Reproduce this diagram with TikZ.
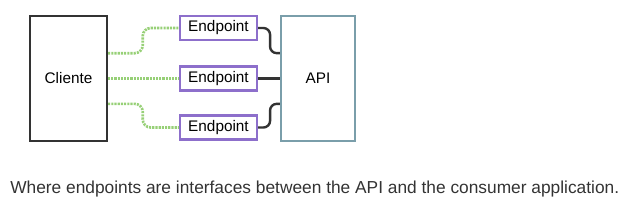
\documentclass[tikz,border=0pt]{standalone}
\usepackage{fontspec}
\setmainfont{Liberation Sans}
\usepackage{tikz}
\usetikzlibrary{calc}
\definecolor{ink}{HTML}{333333}
\definecolor{epline}{HTML}{8D6FCB}
\definecolor{apiline}{HTML}{7A9EAA}
\definecolor{dots}{HTML}{97D077}

\begin{document}
\begin{tikzpicture}[
    x=0.75pt, y=-0.75pt,
    font=\fontsize{11.5}{13}\selectfont,
    client/.style={
        draw=ink, line width=1.6pt, fill=white,
        minimum width=57.75pt, minimum height=93.75pt, inner sep=0pt
    },
    endpoint/.style={
        draw=epline, line width=1.6pt, fill=white,
        minimum width=57.75pt, minimum height=18pt, inner sep=0pt
    },
    server/.style={
        draw=apiline, line width=1.6pt, fill=white,
        minimum width=55.5pt, minimum height=93.75pt, inner sep=0pt
    },
    link/.style={draw=dots, line width=2pt, dash pattern=on 1.6pt off 0.8pt,
        rounded corners=6pt},
    wire/.style={draw=ink, line width=1.8pt, rounded corners=5pt}
]

% ---- Fixed frame: same size as the page ----
\useasboundingbox (0,0) rectangle (629,214);

% ---- Client and API ----
\node[client] (cli) at (68.5,78.5) {Cliente};
\node[server] (api) at (318,78.5) {API};

% ---- Endpoints between them ----
\node[endpoint] (ep1) at (218.5,28)    {Endpoint};
\node[endpoint] (ep2) at (218.5,78.5)  {Endpoint};
\node[endpoint] (ep3) at (218.5,127.5) {Endpoint};

% ---- Client side: dotted links ----
\draw[link] ([yshift=19pt]cli.east) -- ++(26pt,0) |- (ep1.west);
\draw[link] (cli.east) -- (ep2.west);
\draw[link] ([yshift=-19pt]cli.east) -- ++(26pt,0) |- (ep3.west);

% ---- API side: solid wires ----
\draw[wire] (ep1.east) -- ++(9pt,0) |- ([yshift=19pt]api.west);
\draw[wire] (ep2.east) -- (api.west);
\draw[wire] (ep3.east) -- ++(9pt,0) |- ([yshift=-19pt]api.west);

% ---- Caption ----
\node[anchor=base west, inner sep=0pt, text=ink,
      font=\fontsize{13}{15}\selectfont] (cap) at (10,193)
     {Where endpoints are interfaces between the API and the consumer application.};

\end{tikzpicture}
\end{document}
